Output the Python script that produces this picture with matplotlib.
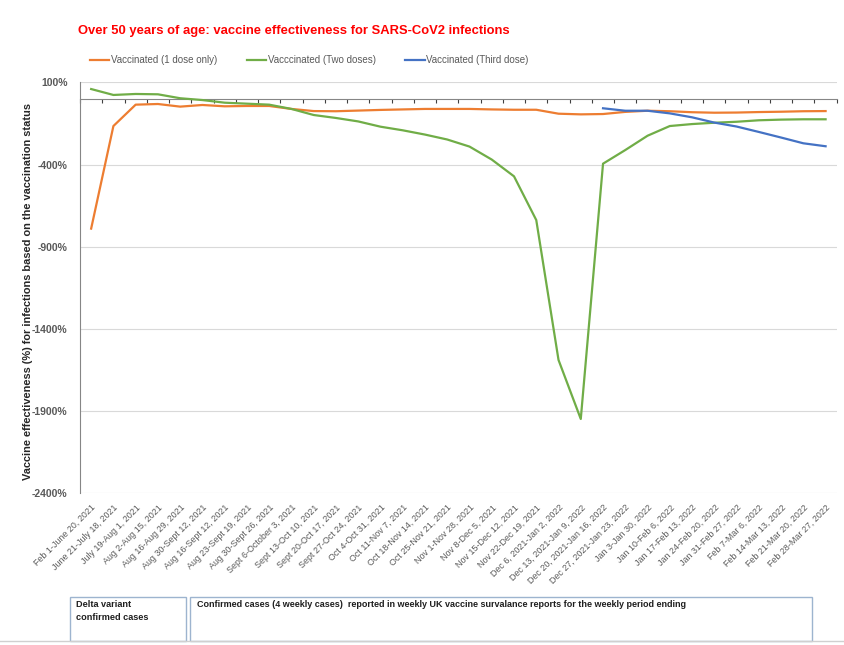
import numpy as np
import matplotlib
matplotlib.use("Agg")
import matplotlib.pyplot as plt
from matplotlib.patches import Rectangle
from matplotlib.lines import Line2D

plt.rcParams['font.family'] = ['Liberation Sans', 'DejaVu Sans']

# reporting periods (x categories)
periods = [
    "Feb 1-June 20, 2021", "June 21-July 18, 2021", "July 19-Aug 1, 2021",
    "Aug 2-Aug 15, 2021", "Aug 16-Aug 29, 2021", "Aug 30-Sept 12, 2021",
    "Aug 16-Sept 12, 2021", "Aug 23-Sept 19, 2021", "Aug 30-Sept 26, 2021",
    "Sept 6-October 3, 2021", "Sept 13-Oct 10, 2021", "Sept 20-Oct 17, 2021",
    "Sept 27-Oct 24, 2021", "Oct 4-Oct 31, 2021", "Oct 11-Nov 7, 2021",
    "Oct 18-Nov 14, 2021", "Oct 25-Nov 21, 2021", "Nov 1-Nov 28, 2021",
    "Nov 8-Dec 5, 2021", "Nov 15-Dec 12, 2021", "Nov 22-Dec 19, 2021",
    "Dec 6, 2021-Jan 2, 2022", "Dec 13, 2021-Jan 9, 2022",
    "Dec 20, 2021-Jan 16, 2022", "Dec 27, 2021-Jan 23, 2022",
    "Jan 3-Jan 30, 2022", "Jan 10-Feb 6, 2022", "Jan 17-Feb 13, 2022",
    "Jan 24-Feb 20, 2022", "Jan 31-Feb 27, 2022", "Feb 7-Mar 6, 2022",
    "Feb 14-Mar 13, 2022", "Feb 21-Mar 20, 2022", "Feb 28-Mar 27, 2022",
]

# vaccine effectiveness in %
one_dose = [-790, -166, -36, -32, -48, -38, -46, -44, -44, -62, -75, -76,
            -72, -68, -65, -62, -62, -62, -65, -67, -67, -91, -95, -93,
            -80, -73, -76, -82, -85, -84, -81, -79, -76, -75]
two_doses = [59, 23, 29, 27, 3, -8, -24, -30, -36, -62, -99, -117,
             -138, -170, -192, -218, -248, -291, -370, -472, -738, -1589, -1948, -395,
             -312, -225, -166, -154, -146, -140, -131, -127, -125, -125]
third_dose = [None] * 23 + [-58, -73, -73, -89, -113, -145, -169, -202,
                            -236, -271, -289]

yticks = [100, -400, -900, -1400, -1900, -2400]

ORANGE = "#ED7D31"
GREEN = "#70AD47"
BLUE = "#4472C4"
GREY = "#595959"

fig = plt.figure(figsize=(8.45, 6.45), dpi=100)
ax = fig.add_axes([0.0947, 0.2352, 0.8955, 0.6372])

x = np.arange(len(periods))
third = np.array([np.nan if v is None else v for v in third_dose], dtype=float)

ax.plot(x, one_dose, color=ORANGE, lw=1.6, label="Vaccinated (1 dose only)")
ax.plot(x, two_doses, color=GREEN, lw=1.6, label="Vacccinated (Two doses)")
ax.plot(x, third, color=BLUE, lw=1.6, label="Vaccinated (Third dose)")

ax.set_xlim(-0.5, len(periods) - 0.5)
ax.set_ylim(-2400, 100)
ax.set_yticks(yticks)
ax.set_yticklabels([f"{v}%" for v in yticks], fontweight="bold", color=GREY, fontsize=7.5)
ax.grid(axis="y", color="#D9D9D9", lw=0.8)
ax.set_axisbelow(True)

ax.set_xticks(x)
ax.set_xticklabels(periods, rotation=45, ha="right", rotation_mode="anchor",
                   fontsize=6.4, color=GREY)
ax.tick_params(axis="x", length=0, pad=7)
ax.tick_params(axis="y", length=0, pad=9)

for side in ["top", "right", "bottom"]:
    ax.spines[side].set_visible(False)
ax.spines["left"].set_color("#868686")

# horizontal axis line at 0% with tick marks between categories
sec = ax.secondary_xaxis(0, transform=ax.transData)
sec.set_xticks(np.arange(len(periods) + 1) - 0.5)
sec.set_xticklabels([])
sec.tick_params(axis="x", length=3, color="#404040", width=0.8)
sec.spines["bottom"].set_color("#868686")

ax.set_ylabel("Vaccine effectiveness (%) for infections based on the vaccination status",
              fontsize=7.9, fontweight="bold", color="#262626")
ax.yaxis.set_label_coords(-0.0615, 0.49)

fig.text(0.092, 0.952, "Over 50 years of age: vaccine effectiveness for SARS-CoV2 infections",
         color="#FF0000", fontsize=9.4, fontweight="bold", va="center")

fig.legend(loc="center", bbox_to_anchor=(0.366, 0.907), ncol=3, frameon=False,
           fontsize=7.0, handlelength=2.0, columnspacing=3.0, handletextpad=0.2,
           labelcolor=GREY)

# table-like boxes under the chart
box_col = "#9DB4CF"
fig.add_artist(Rectangle((70 / 845, 1 - 641 / 645), 116 / 845, 44 / 645,
                         transform=fig.transFigure, fill=False, ec=box_col, lw=1))
fig.add_artist(Rectangle((190 / 845, 1 - 641 / 645), 622 / 845, 44 / 645,
                         transform=fig.transFigure, fill=False, ec=box_col, lw=1))
fig.text(76 / 845, 1 - 600 / 645, "Delta variant\nconfirmed cases", fontsize=6.6,
         fontweight="bold", color="#1F1F1F", va="top", linespacing=1.5)
fig.text(197 / 845, 1 - 600 / 645,
         "Confirmed cases (4 weekly cases)  reported in weekly UK vaccine survalance reports for the weekly period ending",
         fontsize=6.5, fontweight="bold", color="#1F1F1F", va="top")
fig.add_artist(Line2D([0, 1], [1 - 641 / 645] * 2, transform=fig.transFigure,
                      color="#D0D0D0", lw=1))

fig.savefig("out.png", dpi=100)
